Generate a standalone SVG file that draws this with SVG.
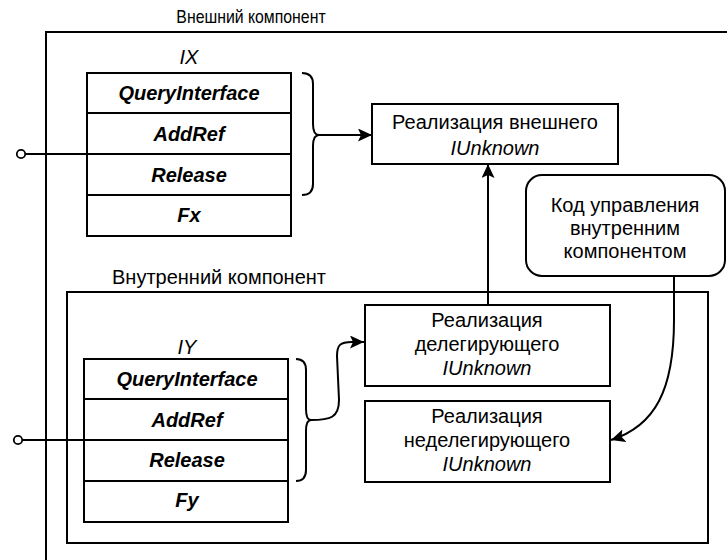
<svg xmlns="http://www.w3.org/2000/svg" width="727" height="560" viewBox="0 0 727 560">
<style>
.box{fill:#fff;stroke:#000;stroke-width:2}
.frame{fill:none;stroke:#000;stroke-width:2}
.ln{fill:none;stroke:#000;stroke-width:2}
.t{font-family:"Liberation Sans",Arial,sans-serif;font-size:20px;fill:#000;text-anchor:middle}
.i{font-style:italic}
.bi{font-style:italic;font-weight:bold}
</style>
<defs>
<marker id="arr" markerUnits="userSpaceOnUse" markerWidth="16" markerHeight="14" refX="14" refY="6.5" orient="auto">
<path d="M0,0 L14,6.5 L0,13 L3,6.5 z" fill="#000"/>
</marker>
</defs>
<g id="outer">
<rect class="frame" x="46" y="32" width="700" height="560"/>
<text class="t" x="0" y="0" transform="translate(251,23) scale(0.88,1)" style="font-size:18px">Внешний компонент</text>
</g>
<g id="inner">
<rect class="frame" x="67" y="292" width="641" height="251"/>
<text class="t" x="219" y="284">Внутренний компонент</text>
</g>
<g id="IX">
<text class="t i" x="189" y="64">IX</text>
<rect class="box" x="87" y="73" width="204" height="163"/>
<line class="ln" x1="87" y1="113" x2="291" y2="113"/>
<line class="ln" x1="87" y1="154" x2="291" y2="154"/>
<line class="ln" x1="87" y1="195" x2="291" y2="195"/>
<text class="t bi" x="189" y="100">QueryInterface</text>
<text class="t bi" x="189" y="141">AddRef</text>
<text class="t bi" x="189" y="182">Release</text>
<text class="t bi" x="189" y="222">Fx</text>
</g>
<g id="IY">
<text class="t i" x="187" y="354">IY</text>
<rect class="box" x="84" y="359" width="204" height="163"/>
<line class="ln" x1="84" y1="399" x2="288" y2="399"/>
<line class="ln" x1="84" y1="440" x2="288" y2="440"/>
<line class="ln" x1="84" y1="481" x2="288" y2="481"/>
<text class="t bi" x="187" y="386">QueryInterface</text>
<text class="t bi" x="187" y="427">AddRef</text>
<text class="t bi" x="187" y="467">Release</text>
<text class="t bi" x="187" y="507">Fy</text>
</g>
<g id="outerUnknown">
<rect class="box" x="372" y="104" width="246" height="60"/>
<text class="t" x="495" y="129">Реализация внешнего</text>
<text class="t i" x="495" y="155">IUnknown</text>
</g>
<g id="control">
<rect class="box" x="526" y="175" width="199" height="101" rx="16"/>
<text class="t" x="625" y="212">Код управления</text>
<text class="t" x="625" y="235">внутренним</text>
<text class="t" x="625" y="258">компонентом</text>
</g>
<g id="delegating">
<rect class="box" x="365" y="305" width="245" height="81"/>
<text class="t" x="487" y="327">Реализация</text>
<text class="t" x="487" y="351">делегирующего</text>
<text class="t i" x="487" y="375">IUnknown</text>
</g>
<g id="nondelegating">
<rect class="box" x="365" y="401" width="245" height="81"/>
<text class="t" x="487" y="423">Реализация</text>
<text class="t" x="487" y="447">неделегирующего</text>
<text class="t i" x="487" y="471">IUnknown</text>
</g>
<g id="connectors">
<line x1="25" y1="154" x2="87" y2="154" stroke="#000" stroke-width="2"/>
<circle cx="21" cy="154" r="4.2" fill="#fff" stroke="#000" stroke-width="1.8"/>
<line x1="22" y1="440" x2="84" y2="440" stroke="#000" stroke-width="2"/>
<circle cx="18" cy="440" r="4.2" fill="#fff" stroke="#000" stroke-width="1.8"/>
<path class="ln" d="M302,73 Q313,73 313,84 L313,124 Q313,135 319,135 Q313,135 313,146 L313,184 Q313,195 302,195"/>
<path class="ln" d="M319,135 L372,135" marker-end="url(#arr)"/>
<path class="ln" d="M296,359 Q306,359 306,370 L306,409 Q306,420 311,420 Q306,420 306,431 L306,470 Q306,481 296,481"/>
<path class="ln" d="M311,420 C330,420 339,418 339,400 L337,356 C337,345 340,342 352,342 L364,342" marker-end="url(#arr)"/>
<path class="ln" d="M488,305 L488,164" marker-end="url(#arr)"/>
<path class="ln" d="M674,276 L674,320 C674,390 655,426 611,440" marker-end="url(#arr)"/>
</g>
</svg>
